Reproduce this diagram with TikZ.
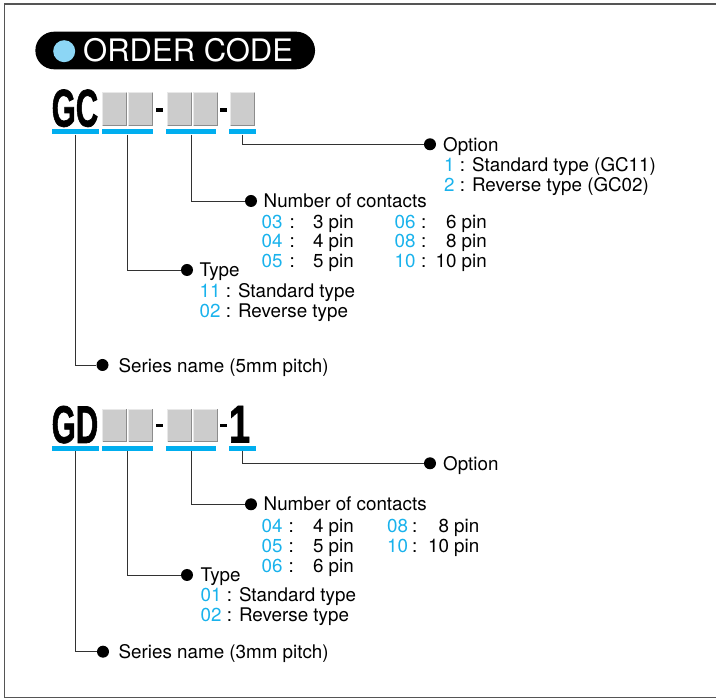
\documentclass[tikz,border=0pt]{standalone}
\usepackage{fontspec}
\setmainfont{TeX Gyre Heros}
\newfontface\heavyfont{Liberation Sans Bold}[FakeBold=1.5]
\definecolor{ucyan}{RGB}{0,174,239}
\definecolor{numc}{RGB}{25,178,236}
\definecolor{hdrblue}{RGB}{140,214,245}
\definecolor{boxgray}{RGB}{204,204,204}
\definecolor{boxlight}{RGB}{232,232,232}
\definecolor{boxdark}{RGB}{140,140,140}
\definecolor{leadc}{RGB}{50,50,50}
\definecolor{framec}{RGB}{85,85,85}
\begin{document}
\begin{tikzpicture}[x=1pt,y=-1pt,
  lead/.style={draw=leadc, line width=0.9pt},
  dotnode/.style={circle, fill=black, inner sep=0pt, minimum size=12pt},
  uline/.style={rectangle, fill=ucyan, inner sep=0pt, minimum height=5.3pt},
  txt/.style={anchor=base west, inner sep=0pt, font=\fontsize{18.8}{21}\selectfont},
  txtr/.style={anchor=base east, inner sep=0pt, font=\fontsize{18.8}{21}\selectfont},
  num/.style={txt, text=numc},
  big/.style={anchor=base west, inner sep=0pt, font=\fontsize{53}{53}\heavyfont},
  dashbar/.style={rectangle, fill=black, inner sep=0pt, minimum width=7pt, minimum height=3.6pt}
]
\useasboundingbox (0,0) rectangle (716,700);
% frame
\draw[framec, line width=1.4pt] (717,4) -- (4.3,4) -- (4.3,697.7) -- (717,697.7);

% header
\node[fill=black, rounded corners=18.8pt, minimum width=279.7pt, minimum height=37.6pt, inner sep=0pt] (hdr) at (175.2,50.5) {};
\node[circle, fill=hdrblue, inner sep=0pt, minimum size=22pt] (hdrdot) at (64.2,51.2) {};
\node[anchor=base west, inner sep=0pt, text=white, font=\fontsize{31}{31}\selectfont] (hdrtxt) at (83,61.8) {ORDER CODE};

% ================= GC block =================
\node[big] (gc) at (51.5,126.5) {\scalebox{0.585}[1]{GC}};
\foreach \a in {102,128,167,193,230}{
  \fill[boxgray] (\a,92.3) rectangle ({\a+24.5},125.7);
  \draw[boxlight, line width=1pt] (\a+0.5,125.2) -- (\a+0.5,92.8) -- ({\a+24},92.8);
  \draw[boxdark, line width=1pt] ({\a+24},92.8) -- ({\a+24},125.2) -- (\a+0.5,125.2);
}
\node[dashbar] (gcd1) at (159.7,110) {};
\node[dashbar] (gcd2) at (223.3,110) {};
\node[uline, minimum width=47.3pt] (u1) at (75.35,131.7) {};
\node[uline, minimum width=50.6pt] (u2) at (127.3,131.7) {};
\node[uline, minimum width=49.7pt] (u3) at (191.2,131.7) {};
\node[uline, minimum width=26.7pt] (u4) at (242.35,131.7) {};

\node[dotnode] (d4) at (430,144.3) {};
\node[dotnode] (d3) at (251,201) {};
\node[dotnode] (d2) at (187,270) {};
\node[dotnode] (d1) at (102.5,365) {};
\draw[lead] (u4.south) |- (d4);
\draw[lead] (u3.south) |- (d3);
\draw[lead] (u2.south) |- (d2);
\draw[lead] (u1.south) |- (d1);

\node[txt] (opt1) at (443,151.7) {Option};
\node[txt] (opt1a) at (444,171.5) {\textcolor{numc}{1} : Standard type (GC11)};
\node[txt] (opt1b) at (444,191.5) {\textcolor{numc}{2} : Reverse type (GC02)};

\node[txt] (nc1) at (263.5,207.5) {Number of contacts};
\node[num] (n03) at (261.5,228.3) {03};
\node[txt] (c03) at (289.5,228.3) {:};
\node[txtr] (p03) at (354,228.3) {3 pin};
\node[num] (n04) at (261.5,248) {04};
\node[txt] (c04) at (289.5,248) {:};
\node[txtr] (p04) at (354,248) {4 pin};
\node[num] (n05) at (261.5,267.7) {05};
\node[txt] (c05) at (289.5,267.7) {:};
\node[txtr] (p05) at (354,267.7) {5 pin};
\node[num] (n06) at (394.5,228.3) {06};
\node[txt] (c06) at (421,228.3) {:};
\node[txtr] (p06) at (487,228.3) {6 pin};
\node[num] (n08) at (394.5,248) {08};
\node[txt] (c08) at (421,248) {:};
\node[txtr] (p08) at (487,248) {8 pin};
\node[num] (n10) at (394.5,267.7) {10};
\node[txt] (c10) at (421,267.7) {:};
\node[txtr] (p10) at (487,267.7) {10 pin};

\node[txt] (ty1) at (199.5,277) {Type};
\node[txt] (ty1a) at (199.5,297.7) {\textcolor{numc}{11} : Standard type};
\node[txt] (ty1b) at (199.5,317.7) {\textcolor{numc}{02} : Reverse type};

\node[txt] (sr1) at (118.5,372.5) {Series name (5mm pitch)};

% ================= GD block =================
\node[big] (gd) at (51.5,442.9) {\scalebox{0.585}[1]{GD}};
\foreach \a in {102,128,167,193}{
  \fill[boxgray] (\a,408.7) rectangle ({\a+24.5},442.1);
  \draw[boxlight, line width=1pt] (\a+0.5,441.6) -- (\a+0.5,409.2) -- ({\a+24},409.2);
  \draw[boxdark, line width=1pt] ({\a+24},409.2) -- ({\a+24},441.6) -- (\a+0.5,441.6);
}
\node[big, anchor=base] (gd1) at (239.5,442.4) {\scalebox{0.72}[1]{1}};
\node[dashbar] (gdd1) at (159.7,425.5) {};
\node[dashbar] (gdd2) at (223.3,425.5) {};
\node[uline, minimum width=47.3pt] (v1) at (75.35,448.3) {};
\node[uline, minimum width=50.6pt] (v2) at (127.3,448.3) {};
\node[uline, minimum width=49.7pt] (v3) at (191.2,448.3) {};
\node[uline, minimum width=26.7pt] (v4) at (242.35,448.3) {};

\node[dotnode] (e4) at (430,463.3) {};
\node[dotnode] (e3) at (251,504.3) {};
\node[dotnode] (e2) at (187,575) {};
\node[dotnode] (e1) at (103,651.7) {};
\draw[lead] (v4.south) |- (e4);
\draw[lead] (v3.south) |- (e3);
\draw[lead] (v2.south) |- (e2);
\draw[lead] (v1.south) |- (e1);

\node[txt] (opt2) at (443,470.5) {Option};

\node[txt] (nc2) at (263.5,511) {Number of contacts};
\node[num] (m04) at (261.5,532.5) {04};
\node[txt] (k04) at (288.5,532.5) {:};
\node[txtr] (q04) at (354,532.5) {4 pin};
\node[num] (m05) at (261.5,552.5) {05};
\node[txt] (k05) at (288.5,552.5) {:};
\node[txtr] (q05) at (354,552.5) {5 pin};
\node[num] (m06) at (261.5,572.5) {06};
\node[txt] (k06) at (288.5,572.5) {:};
\node[txtr] (q06) at (354,572.5) {6 pin};
\node[num] (m08) at (387,532.5) {08};
\node[txt] (k08) at (412,532.5) {:};
\node[txtr] (q08) at (479.5,532.5) {8 pin};
\node[num] (m10) at (387,552.5) {10};
\node[txt] (k10) at (412,552.5) {:};
\node[txtr] (q10) at (479.5,552.5) {10 pin};

\node[txt] (ty2) at (200.5,581.7) {Type};
\node[txt] (ty2a) at (200.5,601.7) {\textcolor{numc}{01} : Standard type};
\node[txt] (ty2b) at (200.5,621.7) {\textcolor{numc}{02} : Reverse type};

\node[txt] (sr2) at (118.5,659) {Series name (3mm pitch)};
\end{tikzpicture}
\end{document}
